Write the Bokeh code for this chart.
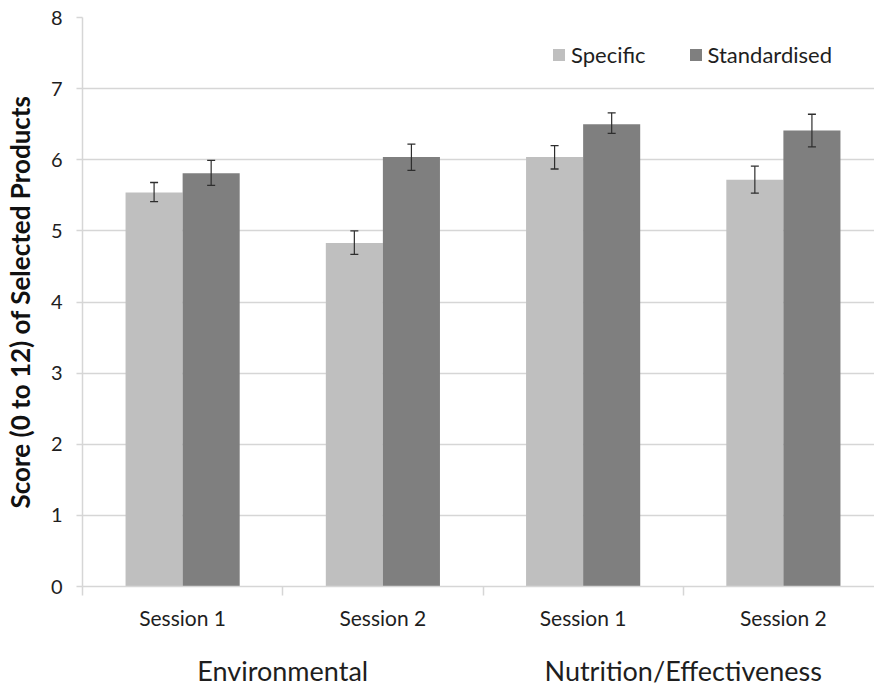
from bokeh.plotting import figure
from bokeh.models import (ColumnDataSource, Range1d, LinearAxis, FixedTicker,
                          Whisker, TeeHead, Legend, LegendItem)
from bokeh.transform import dodge
from bokeh.embed import file_html
from bokeh.resources import INLINE

sessions = ["Session 1", "Session 2", "Session 1", "Session 2"]
groups = ["Environmental", "Nutrition/Effectiveness"]
specific = [5.54, 4.83, 6.04, 5.72]
specific_lo = [5.41, 4.67, 5.87, 5.53]
specific_hi = [5.68, 5.00, 6.20, 5.91]
standardised = [5.81, 6.04, 6.50, 6.41]
standardised_lo = [5.64, 5.85, 6.37, 6.18]
standardised_hi = [5.99, 6.22, 6.66, 6.64]
y_ticks = [0, 1, 2, 3, 4, 5, 6, 7, 8]
x_dividers = [0, 1, 2, 3, 4]

FONT = "Lato"
C_SPEC = "#bfbfbf"
C_STD = "#7f7f7f"
GRID = "#d6d6d6"
TXT = "#1e1e1e"

centers = [i + 0.5 for i in range(len(sessions))]
src = ColumnDataSource(dict(x=centers, spec=specific, spec_lo=specific_lo, spec_hi=specific_hi,
                            std=standardised, std_lo=standardised_lo, std_hi=standardised_hi))

p = figure(width=874, height=689, output_backend="svg", toolbar_location=None,
           x_range=Range1d(0, 3.955), y_range=Range1d(0, 8),
           min_border_left=81, min_border_right=0, min_border_top=17, min_border_bottom=0,
           x_axis_location=None)
p.outline_line_color = None
p.xgrid.grid_line_color = None
p.ygrid.grid_line_color = GRID
p.ygrid.grid_line_width = 1.5
p.ygrid.ticker = FixedTicker(ticks=y_ticks)

bw = 0.285
r1 = p.vbar(x=dodge("x", -bw / 2, range=p.x_range), top="spec", width=bw, source=src,
            fill_color=C_SPEC, line_color=None)
r2 = p.vbar(x=dodge("x", bw / 2, range=p.x_range), top="std", width=bw, source=src,
            fill_color=C_STD, line_color=None)

for col, off in (("spec", -bw / 2), ("std", bw / 2)):
    w = Whisker(base=dodge("x", off, range=p.x_range), lower=col + "_lo", upper=col + "_hi",
                source=src, line_color="#2e2e2e", line_width=1.2, level="overlay",
                upper_head=TeeHead(size=8, line_color="#2e2e2e", line_width=1.3),
                lower_head=TeeHead(size=8, line_color="#2e2e2e", line_width=1.3))
    p.add_layout(w)

# y axis
ya = p.yaxis[0]
ya.ticker = FixedTicker(ticks=y_ticks)
ya.axis_line_color = GRID
ya.axis_line_width = 1.5
ya.major_tick_line_color = GRID
ya.major_tick_line_width = 1.5
ya.major_tick_out = 6
ya.major_tick_in = 0
ya.minor_tick_line_color = None
ya.major_label_text_font = FONT
ya.major_label_text_font_size = "20px"
ya.major_label_text_color = TXT
ya.major_label_standoff = 14
ya.axis_label = "Score (0 to 12) of Selected Products"
ya.axis_label_text_font = FONT
ya.axis_label_text_font_style = "bold"
ya.axis_label_text_font_size = "26px"
ya.axis_label_text_color = "#111111"
ya.axis_label_standoff = 12

# x axis: session labels at centres, divider marks as minor ticks
xs = LinearAxis(ticker=FixedTicker(ticks=centers, minor_ticks=x_dividers),
                major_label_overrides={c: s for c, s in zip(centers, sessions)},
                axis_line_color=GRID, axis_line_width=1.5,
                major_tick_line_color=None, major_tick_out=0, major_tick_in=0,
                minor_tick_line_color=GRID, minor_tick_line_width=1.5,
                minor_tick_out=9, minor_tick_in=0,
                major_label_text_font=FONT, major_label_text_font_size="21px",
                major_label_text_color=TXT, major_label_standoff=9)
p.add_layout(xs, "below")

# group labels
gcent = [1.0, 3.0]
xg = LinearAxis(ticker=FixedTicker(ticks=gcent),
                major_label_overrides={c: g for c, g in zip(gcent, groups)},
                axis_line_color=None, major_tick_line_color=None, minor_tick_line_color=None,
                major_tick_out=0, major_tick_in=0,
                major_label_text_font=FONT, major_label_text_font_size="27px",
                major_label_text_color=TXT, major_label_standoff=21)
p.add_layout(xg, "below")

legend = Legend(items=[LegendItem(label="Specific", renderers=[r1]),
                       LegendItem(label="Standardised", renderers=[r2])],
                orientation="horizontal",
                border_line_color=None, background_fill_alpha=0,
                label_text_font=FONT, label_text_font_size="22px", label_text_color=TXT,
                glyph_width=15, glyph_height=15, spacing=42, margin=0,
                padding=0, label_standoff=5)
p.add_layout(legend, "center")
legend.location = (469, 518)

open("out.html", "w").write(file_html(p, INLINE))
